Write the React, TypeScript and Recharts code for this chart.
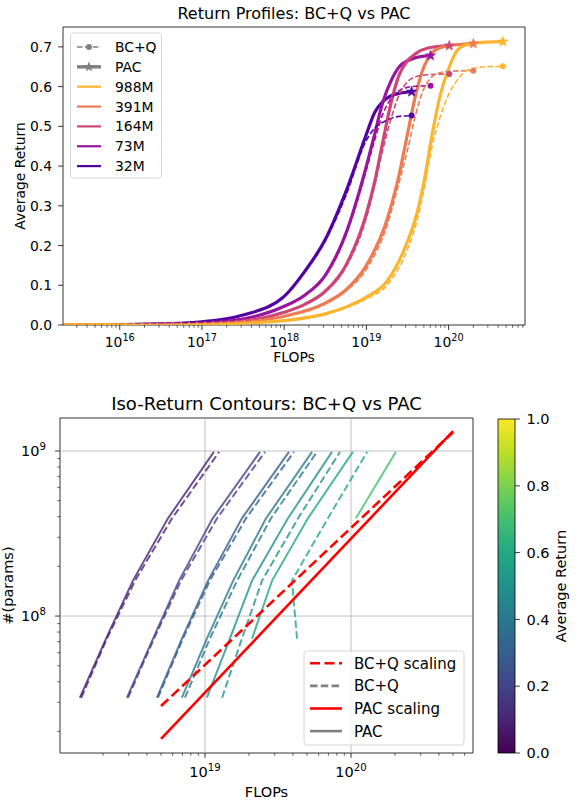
import React from "react";
import { LineChart, Line, XAxis, YAxis, ReferenceArea, ReferenceLine } from "recharts";

const FONT = "'DejaVu Sans', sans-serif";

// ---------- top panel: return profiles ----------
const modelNames = ["988M", "391M", "164M", "73M", "32M"];
const modelColors = ["#fdb42f", "#ee7b51", "#cc4778", "#9a169f", "#5402a3"];

const flops988 = [2.1e15, 1e16, 3.16e16, 1e17, 3.16e17, 1e18, 3.16e18, 5.62e18, 1e19, 1.78e19, 3.16e19, 3.98e19, 5.01e19, 6.31e19, 7.94e19, 1e20, 1.26e20, 1.58e20, 2.0e20, 2.82e20, 4.57e20];
const pac988 = [0.0001, 0.0003, 0.0008, 0.002, 0.005, 0.011, 0.028, 0.045, 0.07, 0.11, 0.21, 0.27, 0.36, 0.48, 0.58, 0.645, 0.69, 0.704, 0.709, 0.712, 0.713];
const bcq988 = [0.0001, 0.0003, 0.0008, 0.002, 0.005, 0.011, 0.027, 0.043, 0.066, 0.1, 0.19, 0.25, 0.34, 0.45, 0.525, 0.58, 0.615, 0.638, 0.646, 0.65, 0.651];

const flops391 = [2.1e15, 1e16, 3.16e16, 1e17, 3.16e17, 1e18, 3.16e18, 5.62e18, 1e19, 1.78e19, 2.51e19, 3.16e19, 3.98e19, 5.01e19, 6.31e19, 7.94e19, 1.12e20, 2.0e20];
const pac391 = [0.0001, 0.0004, 0.0012, 0.003, 0.008, 0.022, 0.055, 0.088, 0.15, 0.265, 0.38, 0.48, 0.58, 0.65, 0.685, 0.698, 0.704, 0.708];
const bcq391 = [0.0001, 0.0004, 0.0012, 0.003, 0.008, 0.021, 0.053, 0.085, 0.14, 0.25, 0.36, 0.44, 0.53, 0.595, 0.625, 0.635, 0.639, 0.64];

const flops164 = [2.1e15, 1e16, 3.16e16, 1e17, 3.16e17, 1e18, 1.78e18, 3.16e18, 5.62e18, 1e19, 1.26e19, 1.58e19, 2.0e19, 2.51e19, 3.16e19, 3.98e19, 5.62e19, 1.02e20];
const pac164 = [0.0002, 0.0005, 0.0015, 0.004, 0.01, 0.032, 0.052, 0.085, 0.15, 0.28, 0.36, 0.46, 0.56, 0.63, 0.665, 0.683, 0.697, 0.703];
const bcq164 = [0.0002, 0.0005, 0.0015, 0.004, 0.01, 0.031, 0.051, 0.083, 0.145, 0.27, 0.35, 0.44, 0.52, 0.58, 0.612, 0.625, 0.63, 0.632];

const flops73 = [2.1e15, 1e16, 3.16e16, 1e17, 3.16e17, 1e18, 1.78e18, 3.16e18, 5.62e18, 1e19, 1.26e19, 1.58e19, 2.0e19, 2.51e19, 3.16e19, 3.98e19, 6.03e19];
const pac73 = [0.0002, 0.0007, 0.002, 0.005, 0.015, 0.047, 0.075, 0.125, 0.23, 0.4, 0.48, 0.56, 0.615, 0.65, 0.665, 0.673, 0.678];
const bcq73 = [0.0002, 0.0007, 0.002, 0.005, 0.015, 0.046, 0.074, 0.123, 0.225, 0.39, 0.465, 0.53, 0.57, 0.59, 0.598, 0.601, 0.602];

const flops32 = [2.1e15, 1e16, 3.16e16, 1e17, 3.16e17, 1e18, 1.78e18, 3.16e18, 5.62e18, 1e19, 1.26e19, 1.58e19, 2.0e19, 2.51e19, 3.55e19];
const pac32 = [0.0003, 0.001, 0.003, 0.008, 0.025, 0.072, 0.135, 0.215, 0.335, 0.48, 0.535, 0.562, 0.577, 0.583, 0.587];
const bcq32 = [0.0003, 0.001, 0.003, 0.008, 0.025, 0.071, 0.133, 0.212, 0.325, 0.465, 0.495, 0.51, 0.52, 0.525, 0.527];

const topXMajor = [1e16, 1e17, 1e18, 1e19, 1e20];
const returnTicks = [0, 0.1, 0.2, 0.3, 0.4, 0.5, 0.6, 0.7];
const TOP_X_DOMAIN: [number, number] = [2.04e15, 8.5e20];

// ---------- bottom panel: iso-return contours ----------
const modelParams = [3.2e7, 7.3e7, 1.64e8, 3.91e8, 9.88e8];
const contourLevels = [0.1, 0.2, 0.3, 0.4, 0.5, 0.6, 0.7];
// FLOPs at which each model size reaches the level (null = never reached)
const pacContours = [
  [1.39e18, 2.1e18, 3.21e18, 5.58e18, 1.15e19],
  [2.92e18, 4.41e18, 6.64e18, 1.13e19, 2.38e19],
  [4.69e18, 6.95e18, 1.05e19, 1.79e19, 3.76e19],
  [6.95e18, 1.03e19, 1.56e19, 2.62e19, 5.41e19],
  [1.03e19, 1.48e19, 2.1e19, 3.7e19, 7.41e19],
  [null, 2.1e19, 2.88e19, 5.07e19, 1.03e20],
  [null, null, null, 1.08e20, 2.03e20],
];
const bcqContours = [
  [1.42e18, 2.13e18, 3.32e18, 5.95e18, 1.25e19],
  [2.97e18, 4.48e18, 6.85e18, 1.21e19, 2.58e19],
  [4.76e18, 7.06e18, 1.08e19, 1.91e19, 4.07e19],
  [7.29e18, 1.08e19, 1.66e19, 2.83e19, 5.85e19],
  [1.31e19, 1.79e19, 2.46e19, 4.34e19, 8.41e19],
  [null, 4.27e19, 3.94e19, 6.95e19, 1.29e20],
];
const scalingFlops = [5.0e18, 5.0e20];
const pacScaling = [1.8e7, 1.32e9];
const bcqScaling = [2.85e7, 1.3e9];

const botXMajor = [1e19, 1e20];
const botYMajor = [1e8, 1e9];
const BOT_X_DOMAIN: [number, number] = [1.016e18, 6.85e20];
const BOT_Y_DOMAIN: [number, number] = [1.48e7, 1.585e9];

const viridis = ["#440154", "#482475", "#414487", "#355f8d", "#2a788e", "#21918c", "#22a884", "#44bf70", "#7ad151", "#bddf26", "#fde725"];
const colorTicks = [0, 0.2, 0.4, 0.6, 0.8, 1.0];
const colorbarEnds = [0, 1];

// ---------- helpers ----------
const withMinors = (majors: number[], lo: number, hi: number) => {
  const out: number[] = [];
  for (let k = Math.floor(Math.log10(lo)); k <= Math.ceil(Math.log10(hi)); k++) {
    for (let m = 1; m <= 9; m++) {
      const v = m * Math.pow(10, k);
      if (v >= lo && v <= hi) out.push(v);
    }
  }
  return out.filter((v) => !majors.includes(v)).concat(majors).sort((a, b) => a - b);
};
const isMajor = (v: number) => Math.abs(Math.log10(v) - Math.round(Math.log10(v))) < 1e-9;

const LogXTick = ({ x, y, payload, size, labelDy }: any) => {
  const major = isMajor(payload.value);
  return (
    <g>
      <line x1={x} x2={x} y1={y} y2={y + (major ? 4.9 : 2.8)} stroke="#000" strokeWidth={major ? 0.8 : 0.6} />
      {major && (
        <text x={x} y={y + labelDy} textAnchor="middle" fontSize={size} fill="#000" fontFamily={FONT}>
          10
          <tspan dy={-size * 0.4} fontSize={size * 0.7}>
            {Math.round(Math.log10(payload.value))}
          </tspan>
        </text>
      )}
    </g>
  );
};

const LogYTick = ({ x, y, payload, size }: any) => {
  const major = isMajor(payload.value);
  return (
    <g>
      <line x1={x - (major ? 4.9 : 2.8)} x2={x} y1={y} y2={y} stroke="#000" strokeWidth={major ? 0.8 : 0.6} />
      {major && (
        <text x={x - 14} y={y + size * 0.36} textAnchor="end" fontSize={size} fill="#000" fontFamily={FONT}>
          10
          <tspan dy={-size * 0.4} fontSize={size * 0.7}>
            {Math.round(Math.log10(payload.value))}
          </tspan>
        </text>
      )}
    </g>
  );
};

const LinYTick = ({ x, y, payload, size, side }: any) => {
  const right = side === "right";
  return (
    <g>
      <line x1={x} x2={right ? x + 4.9 : x - 4.9} y1={y} y2={y} stroke="#000" strokeWidth={0.8} />
      <text x={right ? x + 11.5 : x - 11} y={y + size * 0.36} textAnchor={right ? "start" : "end"} fontSize={size} fill="#000" fontFamily={FONT}>
        {payload.value.toFixed(1)}
      </text>
    </g>
  );
};

const starPoints = (cx: number, cy: number, r: number) => {
  const pts: string[] = [];
  for (let i = 0; i < 10; i++) {
    const rr = i % 2 === 0 ? r : r * 0.42;
    const a = -Math.PI / 2 + (i * Math.PI) / 5;
    pts.push(`${cx + rr * Math.cos(a)},${cy + rr * Math.sin(a)}`);
  }
  return pts.join(" ");
};

const endMarker = (color: string, last: number, kind: "star" | "dot") => (p: any) => {
  if (p.index !== last) return <g key={`m-${p.index}`} />;
  return kind === "star" ? (
    <polygon key={`m-${p.index}`} points={starPoints(p.cx, p.cy, 5.5)} fill={color} stroke={color} strokeWidth={0.5} />
  ) : (
    <circle key={`m-${p.index}`} cx={p.cx} cy={p.cy} r={3} fill={color} />
  );
};

const toPoints = (xs: (number | null)[], ys: (number | null)[]) =>
  xs.map((x, i) => ({ x, y: ys[i] })).filter((d) => d.x != null && d.y != null);

export default function App() {
  const profiles = [
    { name: "32M", flops: flops32, pac: pac32, bcq: bcq32 },
    { name: "73M", flops: flops73, pac: pac73, bcq: bcq73 },
    { name: "164M", flops: flops164, pac: pac164, bcq: bcq164 },
    { name: "391M", flops: flops391, pac: pac391, bcq: bcq391 },
    { name: "988M", flops: flops988, pac: pac988, bcq: bcq988 },
  ].map((m) => ({ ...m, color: modelColors[modelNames.indexOf(m.name)] }));

  const topXTicks = withMinors(topXMajor, TOP_X_DOMAIN[0], TOP_X_DOMAIN[1]);
  const botXTicks = withMinors(botXMajor, BOT_X_DOMAIN[0], BOT_X_DOMAIN[1]);
  const botYTicks = withMinors(botYMajor, BOT_Y_DOMAIN[0], BOT_Y_DOMAIN[1]);

  const topLegend = [
    { label: "BC+Q", kind: "bcq", color: "#808080" },
    { label: "PAC", kind: "pac", color: "#808080" },
    ...modelNames.map((n, i) => ({ label: n, kind: "model", color: modelColors[i] })),
  ];
  const botLegend = [
    { label: "BC+Q scaling", color: "#ff0000", dash: "10 4.5" },
    { label: "BC+Q", color: "#808080", dash: "7.5 3.3" },
    { label: "PAC scaling", color: "#ff0000", dash: undefined },
    { label: "PAC", color: "#808080", dash: undefined },
  ];

  return (
    <div style={{ position: "absolute", left: 0, top: 0, width: 583, height: 803, background: "#fff", fontFamily: FONT }}>
      {/* top panel */}
      <div style={{ position: "absolute", left: 0, top: 0 }}>
        <LineChart width={583} height={370} margin={{ top: 27, right: 58, bottom: 0, left: 0 }}>
          <XAxis
            dataKey="x"
            type="number"
            scale="log"
            domain={TOP_X_DOMAIN}
            allowDataOverflow
            ticks={topXTicks}
            interval={0}
            height={45}
            tickSize={0}
            tickMargin={0}
            tickLine={false}
            axisLine={false}
            tick={(p: any) => <LogXTick {...p} size={13.9} labelDy={22} />}
          />
          <YAxis
            type="number"
            domain={[0, 0.75]}
            allowDataOverflow
            ticks={returnTicks}
            interval={0}
            width={63}
            tickSize={0}
            tickMargin={0}
            tickLine={false}
            axisLine={false}
            tick={(p: any) => <LinYTick {...p} size={13.9} side="left" />}
          />
          {profiles.map((m) => (
            <Line
              key={`pac-${m.name}`}
              data={toPoints(m.flops, m.pac)}
              dataKey="y"
              type="monotone"
              stroke={m.color}
              strokeWidth={3.2}
              dot={endMarker(m.color, m.flops.length - 1, "star")}
              activeDot={false}
              isAnimationActive={false}
            />
          ))}
          {profiles.map((m) => (
            <Line
              key={`bcq-${m.name}`}
              data={toPoints(m.flops, m.bcq)}
              dataKey="y"
              type="monotone"
              stroke={m.color}
              strokeWidth={1.6}
              strokeDasharray="5.5 2.4"
              dot={endMarker(m.color, m.flops.length - 1, "dot")}
              activeDot={false}
              isAnimationActive={false}
            />
          ))}
          <ReferenceArea
            x1={TOP_X_DOMAIN[0]}
            x2={TOP_X_DOMAIN[1]}
            y1={0}
            y2={0.75}
            ifOverflow="visible"
            fill="none"
            fillOpacity={0}
            stroke="#000"
            strokeWidth={0.8}
            strokeOpacity={1}
          />
        </LineChart>
      </div>

      {/* bottom panel */}
      <div style={{ position: "absolute", left: 0, top: 380 }}>
        <LineChart width={583} height={423} margin={{ top: 38, right: 110, bottom: 0, left: 0 }}>
          <XAxis
            dataKey="x"
            type="number"
            scale="log"
            domain={BOT_X_DOMAIN}
            allowDataOverflow
            ticks={botXTicks}
            interval={0}
            height={50}
            tickSize={0}
            tickMargin={0}
            tickLine={false}
            axisLine={false}
            tick={(p: any) => <LogXTick {...p} size={14.5} labelDy={24} />}
          />
          <YAxis
            type="number"
            scale="log"
            domain={BOT_Y_DOMAIN}
            allowDataOverflow
            ticks={botYTicks}
            interval={0}
            width={60}
            tickSize={0}
            tickMargin={0}
            tickLine={false}
            axisLine={false}
            tick={(p: any) => <LogYTick {...p} size={14.5} />}
          />
          {botXMajor.map((v) => (
            <ReferenceLine key={`gx-${v}`} x={v} stroke="#b0b0b0" strokeWidth={0.8} />
          ))}
          {botYMajor.map((v) => (
            <ReferenceLine key={`gy-${v}`} y={v} stroke="#b0b0b0" strokeWidth={0.8} />
          ))}
          {pacContours.map((xs, i) => (
            <Line
              key={`pc-${i}`}
              data={toPoints(xs, modelParams)}
              dataKey="y"
              type="linear"
              stroke={viridis[Math.round(contourLevels[i] * 10)]}
              strokeOpacity={0.8}
              strokeWidth={2}
              dot={false}
              activeDot={false}
              isAnimationActive={false}
            />
          ))}
          {bcqContours.map((xs, i) => (
            <Line
              key={`bc-${i}`}
              data={toPoints(xs, modelParams)}
              dataKey="y"
              type="linear"
              stroke={viridis[Math.round(contourLevels[i] * 10)]}
              strokeOpacity={0.8}
              strokeWidth={2}
              strokeDasharray="7.5 3.3"
              dot={false}
              activeDot={false}
              isAnimationActive={false}
            />
          ))}
          <Line
            data={toPoints(scalingFlops, bcqScaling)}
            dataKey="y"
            type="linear"
            stroke="#ff0000"
            strokeWidth={2.6}
            strokeDasharray="10 4.5"
            dot={false}
            activeDot={false}
            isAnimationActive={false}
          />
          <Line
            data={toPoints(scalingFlops, pacScaling)}
            dataKey="y"
            type="linear"
            stroke="#ff0000"
            strokeWidth={2.6}
            dot={false}
            activeDot={false}
            isAnimationActive={false}
          />
          <ReferenceArea
            x1={BOT_X_DOMAIN[0]}
            x2={BOT_X_DOMAIN[1]}
            y1={BOT_Y_DOMAIN[0]}
            y2={BOT_Y_DOMAIN[1]}
            ifOverflow="visible"
            fill="none"
            fillOpacity={0}
            stroke="#000"
            strokeWidth={0.8}
            strokeOpacity={1}
          />
        </LineChart>
      </div>

      {/* colorbar */}
      <div style={{ position: "absolute", left: 490, top: 380 }}>
        <LineChart width={93} height={423} margin={{ top: 39, right: 0, bottom: 50, left: 8 }}>
          <defs>
            <linearGradient id="viridisBar" x1="0" y1="1" x2="0" y2="0">
              {viridis.map((c, i) => (
                <stop key={c} offset={`${i * 10}%`} stopColor={c} />
              ))}
            </linearGradient>
          </defs>
          <XAxis dataKey="x" type="number" domain={[0, 1]} allowDataOverflow hide />
          <YAxis
            type="number"
            orientation="right"
            domain={[0, 1]}
            allowDataOverflow
            ticks={colorTicks}
            interval={0}
            width={68}
            tickSize={0}
            tickMargin={0}
            tickLine={false}
            axisLine={false}
            tick={(p: any) => <LinYTick {...p} size={14.5} side="right" />}
          />
          <Line
            data={toPoints(colorbarEnds, colorbarEnds)}
            dataKey="y"
            stroke="none"
            dot={false}
            activeDot={false}
            isAnimationActive={false}
          />
          <ReferenceArea
            x1={0}
            x2={1}
            y1={0}
            y2={1}
            ifOverflow="visible"
            fill="url(#viridisBar)"
            fillOpacity={1}
            stroke="#000"
            strokeWidth={0.8}
            strokeOpacity={1}
          />
        </LineChart>
      </div>

      {/* titles, axis labels, legends */}
      <svg width={583} height={803} style={{ position: "absolute", left: 0, top: 0, pointerEvents: "none" }} fontFamily={FONT}>
        <text x={294} y={19} textAnchor="middle" fontSize={16}>Return Profiles: BC+Q vs PAC</text>
        <text x={294} y={362} textAnchor="middle" fontSize={13.9}>FLOPs</text>
        <text x={25} y={176} textAnchor="middle" fontSize={13.9} transform="rotate(-90 25 176)">Average Return</text>

        <text x={266.5} y={410} textAnchor="middle" fontSize={18}>Iso-Return Contours: BC+Q vs PAC</text>
        <text x={266.5} y={797} textAnchor="middle" fontSize={14.5}>FLOPs</text>
        <text x={13} y={585.5} textAnchor="middle" fontSize={14.5} transform="rotate(-90 13 585.5)">#(params)</text>
        <text x={566} y={586} textAnchor="middle" fontSize={14.5} transform="rotate(-90 566 586)">Average Return</text>

        <rect x={70.5} y={33} width={91} height={145} rx={3} fill="#fff" fillOpacity={0.8} stroke="#cccccc" strokeWidth={0.8} />
        {topLegend.map((e, i) => {
          const y = 47 + i * 19.85;
          return (
            <g key={e.label}>
              <line
                x1={77}
                x2={101}
                y1={y}
                y2={y}
                stroke={e.color}
                strokeWidth={e.kind === "pac" ? 3.5 : e.kind === "bcq" ? 1.6 : 2.2}
                strokeDasharray={e.kind === "bcq" ? "5.5 2.4" : undefined}
              />
              {e.kind === "bcq" && <circle cx={89} cy={y} r={3} fill={e.color} />}
              {e.kind === "pac" && <polygon points={starPoints(89, y, 5.5)} fill={e.color} />}
              <text x={115} y={y + 5} fontSize={13.9}>{e.label}</text>
            </g>
          );
        })}

        <rect x={304} y={651} width={160} height={94} rx={3} fill="#fff" fillOpacity={0.8} stroke="#cccccc" strokeWidth={0.8} />
        {botLegend.map((e, i) => {
          const y = 663.3 + i * 22.6;
          return (
            <g key={e.label}>
              <line x1={310} x2={342} y1={y} y2={y} stroke={e.color} strokeWidth={2.6} strokeDasharray={e.dash} />
              <text x={354} y={y + 5.5} fontSize={15}>{e.label}</text>
            </g>
          );
        })}
      </svg>
    </div>
  );
}
